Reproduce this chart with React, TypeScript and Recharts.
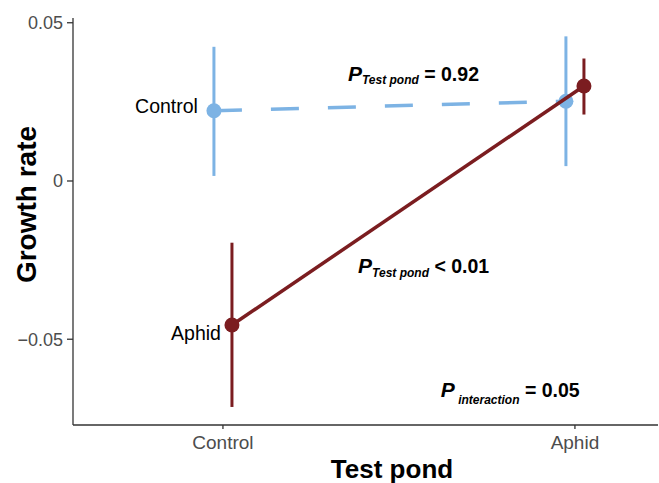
import { ScatterChart, Scatter, XAxis, YAxis, ErrorBar, ReferenceDot } from "recharts"

const categories = ["Control", "Aphid"]
const categoryPos = [1, 2]
const dodge = 0.0256

// source pond "Control" (blue, dashed)
const controlMean = [0.0222, 0.0252]
const controlLow = [0.0016, 0.0047]
const controlHigh = [0.0424, 0.0457]

// source pond "Aphid" (dark red, solid)
const aphidMean = [-0.0455, 0.03]
const aphidLow = [-0.0714, 0.021]
const aphidHigh = [-0.0195, 0.0387]

const yTicks = [-0.05, 0, 0.05]

const BLUE = "#7db3e4"
const RED = "#7b1d20"
const FONT = "'Liberation Sans', Arial, Helvetica, sans-serif"

const toRows = (mean: number[], low: number[], high: number[], shift: number) =>
  categoryPos.map((p, i) => ({
    x: p + shift,
    y: mean[i],
    err: [mean[i] - low[i], high[i] - mean[i]],
  }))

const controlData = toRows(controlMean, controlLow, controlHigh, -dodge)
const aphidData = toRows(aphidMean, aphidLow, aphidHigh, dodge)

const annotations = [
  { x: 1.355, y: 0.0317, sub: "Test pond", rest: " = 0.92", subDy: 3.5 },
  { x: 1.384, y: -0.0291, sub: "Test pond", rest: " < 0.01", subDy: 3.5 },
  { x: 1.619, y: -0.0682, sub: " interaction", rest: " = 0.05", subDy: 7 },
]

const dot = (color: string) => (props: any) => (
  <circle cx={props.cx} cy={props.cy} r={7.5} fill={color} />
)

const fmtY = (v: number) => (v === 0 ? "0" : v.toFixed(2).replace("-", "\u2212"))

export default function App() {
  return (
    <div style={{ position: "absolute", left: 0, top: 0, background: "#fff" }}>
      <ScatterChart
        width={659}
        height={483}
        margin={{ top: 18, right: 1, bottom: 0, left: 0 }}
        style={{ fontFamily: FONT }}
      >
        <XAxis
          type="number"
          dataKey="x"
          domain={[0.574, 2.236]}
          allowDataOverflow
          ticks={categoryPos}
          tickFormatter={(v: number) => categories[v - 1]}
          height={58}
          stroke="#333"
          strokeWidth={1.3}
          tickSize={4}
          tickMargin={7}
          tick={{ fill: "#4d4d4d", fontSize: 19 }}
          label={(p: any) => (
            <text
              x={p.viewBox.x + 319}
              y={p.viewBox.y + 53}
              textAnchor="middle"
              fontSize={26}
              fontWeight="bold"
              fill="#000"
              fontFamily={FONT}
            >
              Test pond
            </text>
          )}
        />
        <YAxis
          type="number"
          dataKey="y"
          domain={[-0.0771, 0.0515]}
          allowDataOverflow
          ticks={yTicks}
          tickFormatter={fmtY}
          width={73}
          stroke="#333"
          strokeWidth={1.3}
          tickSize={6}
          tickMargin={4}
          tick={{ fill: "#4d4d4d", fontSize: 18 }}
          label={(p: any) => {
            const cx = 36
            const cy = p.viewBox.y + p.viewBox.height / 2 - 17
            return (
              <text
                x={cx}
                y={cy}
                transform={`rotate(-90 ${cx} ${cy})`}
                textAnchor="middle"
                fontSize={28}
                fontWeight="bold"
                fill="#000"
                fontFamily={FONT}
              >
                Growth rate
              </text>
            )
          }}
        />
        <Scatter
          data={controlData}
          fill={BLUE}
          shape={dot(BLUE)}
          line={{ stroke: BLUE, strokeWidth: 3.5, strokeDasharray: "28 29" }}
          lineType="joint"
          isAnimationActive={false}
        >
          <ErrorBar dataKey="err" direction="y" width={0} stroke={BLUE} strokeWidth={3} />
        </Scatter>
        <Scatter
          data={aphidData}
          fill={RED}
          shape={dot(RED)}
          line={{ stroke: RED, strokeWidth: 3.5 }}
          lineType="joint"
          isAnimationActive={false}
        >
          <ErrorBar dataKey="err" direction="y" width={0} stroke={RED} strokeWidth={3} />
        </Scatter>
        <ReferenceDot
          x={controlData[0].x}
          y={controlData[0].y}
          r={0}
          fill="none"
          stroke="none"
          label={(p: any) => (
            <text x={p.viewBox.x - 16} y={p.viewBox.y + 2} textAnchor="end" fontSize={19.5} fill="#000" fontFamily={FONT}>
              {categories[0]}
            </text>
          )}
        />
        <ReferenceDot
          x={aphidData[0].x}
          y={aphidData[0].y}
          r={0}
          fill="none"
          stroke="none"
          label={(p: any) => (
            <text x={p.viewBox.x - 11} y={p.viewBox.y + 15} textAnchor="end" fontSize={19.5} fill="#000" fontFamily={FONT}>
              {categories[1]}
            </text>
          )}
        />
        {annotations.map((a, i) => (
          <ReferenceDot
            key={i}
            x={a.x}
            y={a.y}
            r={0}
            fill="none"
            stroke="none"
            label={(p: any) => (
              <text x={p.viewBox.x} y={p.viewBox.y} fill="#000" fontWeight="bold" fontFamily={FONT} fontSize={19.5} style={{ whiteSpace: "pre" }}>
                <tspan fontStyle="italic" fontSize={21}>P</tspan>
                <tspan fontStyle="italic" fontSize={12} dy={a.subDy}>{a.sub}</tspan>
                <tspan dy={-a.subDy}>{a.rest}</tspan>
              </text>
            )}
          />
        ))}
      </ScatterChart>
    </div>
  )
}
